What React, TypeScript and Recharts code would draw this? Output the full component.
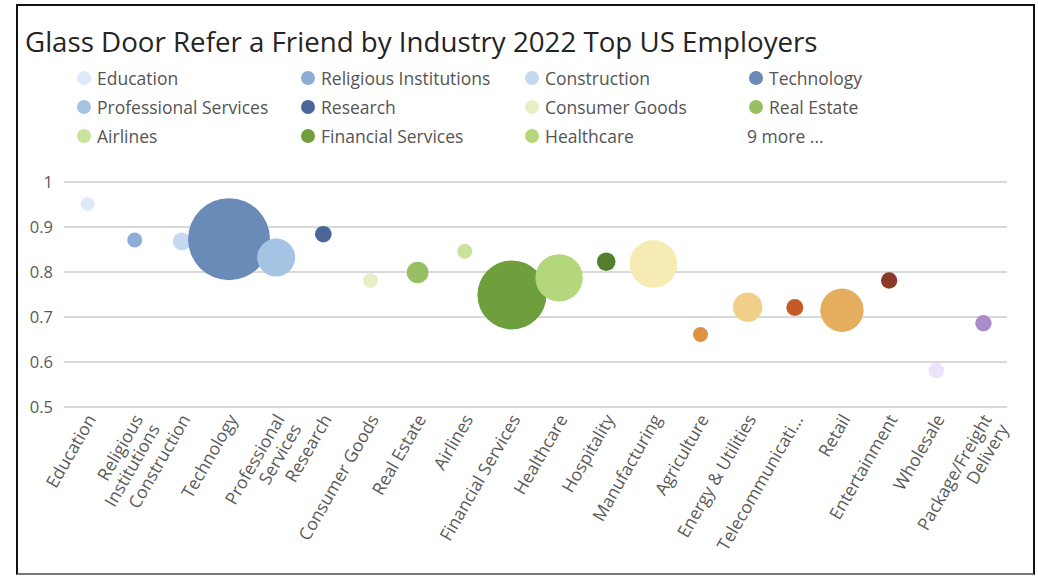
import React from "react";
import { ScatterChart, Scatter, XAxis, YAxis, ZAxis, CartesianGrid, Cell } from "recharts";

const categories = [
  "Education", "Religious Institutions", "Construction", "Technology", "Professional Services",
  "Research", "Consumer Goods", "Real Estate", "Airlines", "Financial Services",
  "Healthcare", "Hospitality", "Manufacturing", "Agriculture", "Energy & Utilities",
  "Telecommunications", "Retail", "Entertainment", "Wholesale", "Package/Freight Delivery",
];

const referRate = [
  0.951, 0.871, 0.868, 0.873, 0.832,
  0.884, 0.781, 0.799, 0.846, 0.749,
  0.787, 0.823, 0.818, 0.661, 0.722,
  0.721, 0.715, 0.781, 0.581, 0.686,
];

const bubbleSize = [
  50, 56, 81, 1681, 361,
  69, 56, 117, 56, 1190,
  562, 86, 566, 56, 216,
  72, 471, 67, 61, 67,
];

const colors = [
  "#dfe9f8", "#8dadd6", "#c5d8f0", "#6a8bb8", "#a5c3e3",
  "#4b6799", "#e5f0c6", "#98c062", "#c9e29c", "#6f9e3d",
  "#b4d77b", "#527e2d", "#f6ebb2", "#e19240", "#efcf8a",
  "#c55a28", "#e5ae5e", "#8b3a27", "#ebe3f9", "#aa8ccb",
];

const tickLabels = [
  ["Education"], ["Religious", "Institutions"], ["Construction"], ["Technology"], ["Professional", "Services"],
  ["Research"], ["Consumer Goods"], ["Real Estate"], ["Airlines"], ["Financial Services"],
  ["Healthcare"], ["Hospitality"], ["Manufacturing"], ["Agriculture"], ["Energy & Utilities"],
  ["Telecommunicati..."], ["Retail"], ["Entertainment"], ["Wholesale"], ["Package/Freight", "Delivery"],
];

const yTicks = [0.5, 0.6, 0.7, 0.8, 0.9, 1];
const legendCount = 11;
const moreLabel = "9 more ...";

const data = categories.map((name, i) => ({ name, y: referRate[i], z: bubbleSize[i] }));

const FONT = "'Open Sans', 'Noto Sans', sans-serif";

const XTick = (props: any) => {
  const { x, y, payload } = props;
  const idx = categories.indexOf(payload.value);
  const lines = idx >= 0 ? tickLabels[idx] : [String(payload.value)];
  return (
    <g transform={`translate(${x + 9},${y + 4}) rotate(-60)`}>
      <text textAnchor="end" fill="#5a5a5a" fontSize={17.5} fontFamily={FONT}>
        {lines.map((l, k) => (
          <tspan key={k} x={0} dy={k === 0 ? 0 : "1.1em"}>{l}</tspan>
        ))}
      </text>
    </g>
  );
};

export default function App() {
  const legendItems = categories.slice(0, legendCount);
  return (
    <div style={{ position: "absolute", left: 0, top: 0, width: 1038, height: 576, background: "#fff", fontFamily: FONT }}>
      <div style={{ position: "absolute", left: 16, top: 4, width: 1015, height: 567, borderLeft: "2px solid #111", borderTop: "2px solid #111", borderRight: "2px solid #111", borderBottom: "2px solid #777" }} />
      <div style={{ position: "absolute", left: 25, top: 22, fontSize: 27.7, lineHeight: "38px", color: "#252423", whiteSpace: "nowrap" }}>
        Glass Door Refer a Friend by Industry 2022 Top US Employers
      </div>
      {legendItems.map((name, i) => {
        const col = i % 4;
        const row = Math.floor(i / 4);
        const cx = 84 + col * 224;
        const cy = 78 + row * 29;
        return (
          <div key={name} style={{ position: "absolute", left: cx - 7, top: cy - 12, height: 24, display: "flex", alignItems: "center", whiteSpace: "nowrap" }}>
            <span style={{ display: "inline-block", width: 14, height: 14, borderRadius: 7, background: colors[i], marginRight: 6 }} />
            <span style={{ fontSize: 17.5, color: "#555" }}>{name}</span>
          </div>
        );
      })}
      {(() => {
        const i = legendCount;
        const col = i % 4;
        const row = Math.floor(i / 4);
        return (
          <div style={{ position: "absolute", left: 84 + col * 224 - 9, top: 78 + row * 29 - 12, height: 24, display: "flex", alignItems: "center", fontSize: 17.5, color: "#555", whiteSpace: "nowrap" }}>
            {moreLabel}
          </div>
        );
      })()}
      <div style={{ position: "absolute", left: 0, top: 0 }}>
        <ScatterChart width={1038} height={576} margin={{ top: 182, right: 31, left: 20, bottom: 19 }}>
          <CartesianGrid horizontal vertical={false} stroke="#cccccc" strokeWidth={1.3} />
          <XAxis
            dataKey="name"
            type="category"
            allowDuplicatedCategory={false}
            axisLine={false}
            tickLine={false}
            interval={0}
            height={150}
            tick={<XTick />}
          />
          <YAxis
            dataKey="y"
            type="number"
            domain={[0.5, 1]}
            ticks={yTicks}
            axisLine={false}
            tickLine={false}
            width={44}
            tickMargin={5}
            tick={{ fill: "#5a5a5a", fontSize: 16.5, fontFamily: FONT }}
          />
          <ZAxis dataKey="z" type="number" domain={[0, 1700]} range={[0, Math.PI * 1700]} />
          <Scatter data={data} isAnimationActive={false} shape="circle">
            {data.map((d, i) => (
              <Cell key={d.name} fill={colors[i]} />
            ))}
          </Scatter>
        </ScatterChart>
      </div>
    </div>
  );
}
